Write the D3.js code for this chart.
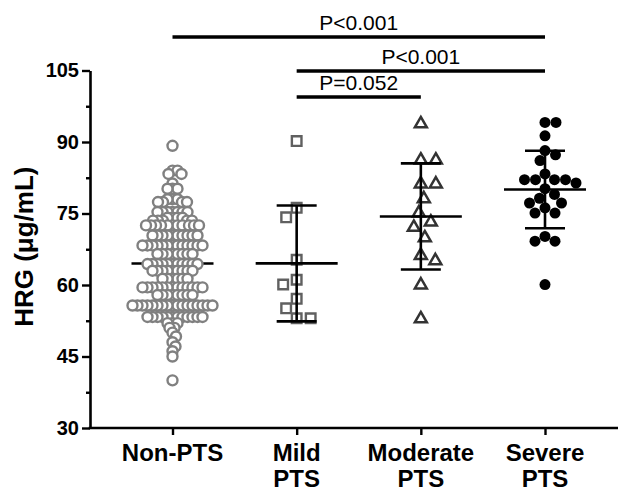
<!DOCTYPE html>
<html>
<head>
<meta charset="utf-8">
<script src="https://cdn.jsdelivr.net/npm/d3@7"></script>
<style>
  body { margin: 0; background: #fff; }
  svg { display: block; }
  text { font-family: 'Liberation Sans', Arial, sans-serif; }
</style>
</head>
<body>
<div id="chart"></div>
<script>
// groups on the x axis
const categories = ['Non-PTS', 'Mild PTS', 'Moderate PTS', 'Severe PTS']
const categoryLines = [['Non-PTS'], ['Mild', 'PTS'], ['Moderate', 'PTS'], ['Severe', 'PTS']]

// HRG values (ug/mL)
const nonPts = [
  89.2,
  84.0, 84.0,
  83.3, 83.3,
  81.3,
  80.2, 80.2, 80.2,
  78.0, 78.0, 78.0,
  77.4, 77.4, 77.4, 77.4,
  75.3, 75.3, 75.3, 75.3, 75.3, 75.3, 75.3,
  74.1, 74.1, 74.1, 74.1,
  73.5, 73.5, 73.5, 73.5, 73.5,
  72.5, 72.5, 72.5, 72.5, 72.5, 72.5, 72.5, 72.5, 72.5, 72.5, 72.5,
  70.4, 70.4, 70.4, 70.4, 70.4, 70.4, 70.4, 70.4, 70.4, 70.4,
  68.3, 68.3, 68.3, 68.3, 68.3, 68.3, 68.3, 68.3, 68.3, 68.3, 68.3, 68.3, 68.3,
  66.5, 66.5, 66.5, 66.5, 66.5, 66.5, 66.5, 66.5,
  64.4, 64.4, 64.4, 64.4, 64.4, 64.4, 64.4, 64.4, 64.4, 64.4, 64.4,
  63.0, 63.0, 63.0, 63.0, 63.0, 63.0, 63.0, 63.0, 63.0,
  61.3, 61.3, 61.3, 61.3, 61.3, 61.3,
  59.5, 59.5, 59.5, 59.5, 59.5, 59.5, 59.5, 59.5, 59.5, 59.5, 59.5, 59.5, 59.5,
  57.9, 57.9, 57.9, 57.9, 57.9, 57.9, 57.9, 57.9,
  55.7, 55.7, 55.7, 55.7, 55.7, 55.7, 55.7, 55.7, 55.7, 55.7, 55.7, 55.7, 55.7, 55.7, 55.7, 55.7, 55.7,
  53.3, 53.3, 53.3, 53.3, 53.3, 53.3, 53.3, 53.3, 53.3, 53.3, 53.3, 53.3,
  52.0, 52.0, 52.0,
  51.0, 51.0,
  50.0, 49.2, 48.0, 47.1, 46.1, 45.0, 40.0
]
const mildPts = [90.2, 76.2, 74.2, 65.3, 61.1, 60.1, 57.1, 55.1, 53.0, 53.0]
const moderatePts = [93.8, 86.2, 86.2, 81.2, 81.2, 78.1, 75.1, 73.2, 72.1, 69.9, 66.2, 65.1, 60.0, 52.9]
const severePts = [94.1, 94.1, 91.3, 88.2, 87.3, 86.1, 83.3, 82.1, 82.1, 82.1, 82.1, 81.4,
  80.2, 79.0, 78.2, 77.2, 77.2, 76.2, 75.1, 75.1, 70.2, 69.2, 69.2, 60.1]

// y axis ticks
const majorTicks = [30, 45, 60, 75, 90, 105]
const minorTicks = [37.5, 52.5, 67.5, 82.5, 97.5]

// comparisons shown above the plot
const comparisons = [
  { from: 'Non-PTS', to: 'Severe PTS', label: 'P<0.001' },
  { from: 'Mild PTS', to: 'Severe PTS', label: 'P<0.001' },
  { from: 'Mild PTS', to: 'Moderate PTS', label: 'P=0.052' }
]

const width = 622
const height = 493
const margin = { top: 70.5, right: 4, bottom: 65, left: 90 }
const innerWidth = width - margin.left - margin.right
const innerHeight = height - margin.top - margin.bottom

const svg = d3
  .select('#chart')
  .append('svg')
  .attr('width', width)
  .attr('height', height)

const g = svg.append('g').attr('transform', 'translate(' + margin.left + ',' + margin.top + ')')

const yPositionScale = d3.scaleLinear().domain([30, 105]).range([innerHeight, 0])
const xPositionScale = d3.scalePoint().domain(categories).range([82.5, 455])

// simple beeswarm: nudge points sideways until they stop colliding
function swarm(values, dmin, side) {
  const pts = values.map(v => ({ v: v, py: yPositionScale(v), dx: 0 }))
  const order = pts.slice().sort((a, b) => b.v - a.v)
  const placed = []
  order.forEach(p => {
    for (let k = 0; k < 600; k++) {
      const off = k === 0 ? 0 : (k % 2 ? side : -side) * Math.ceil(k / 2) * 0.5
      const ok = placed.every(q => {
        const ddy = q.py - p.py
        const ddx = q.dx - off
        return Math.abs(ddy) >= dmin || ddx * ddx + ddy * ddy >= dmin * dmin - 1e-6
      })
      if (ok) {
        p.dx = off
        break
      }
    }
    placed.push(p)
  })
  return order
}

const groups = [
  { name: 'Non-PTS', values: nonPts, dmin: 5, side: 1 },
  { name: 'Mild PTS', values: mildPts, dmin: 14, side: -1 },
  { name: 'Moderate PTS', values: moderatePts, dmin: 15, side: 1 },
  { name: 'Severe PTS', values: severePts, dmin: 11, side: 1 }
]

function drawBars(grp) {
  const cx = xPositionScale(grp.name)
  const mean = d3.mean(grp.values)
  const sd = d3.deviation(grp.values)
  const bars = g.append('g').attr('class', 'bars').attr('stroke', '#000').attr('stroke-width', 2.6)
  bars.append('line')
    .attr('x1', cx).attr('x2', cx)
    .attr('y1', yPositionScale(mean + sd)).attr('y2', yPositionScale(mean - sd))
  bars.append('line')
    .attr('x1', cx - 20).attr('x2', cx + 20)
    .attr('y1', yPositionScale(mean + sd)).attr('y2', yPositionScale(mean + sd))
  bars.append('line')
    .attr('x1', cx - 20).attr('x2', cx + 20)
    .attr('y1', yPositionScale(mean - sd)).attr('y2', yPositionScale(mean - sd))
  bars.append('line')
    .attr('x1', cx - 41).attr('x2', cx + 41)
    .attr('y1', yPositionScale(mean)).attr('y2', yPositionScale(mean))
}

// Non-PTS: bars sit under the white-filled circles
drawBars(groups[0])
g.append('g')
  .selectAll('circle')
  .data(swarm(groups[0].values, groups[0].dmin, groups[0].side))
  .enter()
  .append('circle')
  .attr('cx', d => xPositionScale(groups[0].name) + d.dx)
  .attr('cy', d => d.py)
  .attr('r', 5)
  .attr('fill', '#fff')
  .attr('stroke', '#808080')
  .attr('stroke-width', 2.4)

// Mild: open squares
g.append('g')
  .selectAll('path')
  .data(swarm(groups[1].values, groups[1].dmin, groups[1].side))
  .enter()
  .append('path')
  .attr('d', d3.symbol().type(d3.symbolSquare).size(92))
  .attr('transform', d => 'translate(' + (xPositionScale(groups[1].name) + d.dx) + ',' + d.py + ')')
  .attr('fill', 'none')
  .attr('stroke', '#606060')
  .attr('stroke-width', 2.4)

// Moderate: open triangles
g.append('g')
  .selectAll('path')
  .data(swarm(groups[2].values, groups[2].dmin, groups[2].side))
  .enter()
  .append('path')
  .attr('d', d3.symbol().type(d3.symbolTriangle).size(62))
  .attr('transform', d => 'translate(' + (xPositionScale(groups[2].name) + d.dx) + ',' + d.py + ')')
  .attr('fill', 'none')
  .attr('stroke', '#333')
  .attr('stroke-width', 2.5)
  .attr('stroke-linejoin', 'miter')

// Severe: filled dots
g.append('g')
  .selectAll('circle')
  .data(swarm(groups[3].values, groups[3].dmin, groups[3].side))
  .enter()
  .append('circle')
  .attr('cx', d => xPositionScale(groups[3].name) + d.dx)
  .attr('cy', d => d.py)
  .attr('r', 5.5)
  .attr('fill', '#000')

drawBars(groups[1])
drawBars(groups[2])
drawBars(groups[3])

// y axis
const yAxis = d3.axisLeft(yPositionScale).tickValues(majorTicks).tickSize(8).tickSizeOuter(0).tickPadding(3)
const yAxisG = g.append('g').attr('class', 'axis y-axis').call(yAxis)
yAxisG.select('.domain').attr('stroke-width', 2.6)
yAxisG.selectAll('.tick line').attr('stroke-width', 2.4)
yAxisG.selectAll('.tick text')
  .attr('font-size', 20)
  .attr('font-weight', 'bold')
  .attr('font-family', "'Liberation Sans', Arial, sans-serif")
  .attr('fill', '#000')

const yMinor = d3.axisLeft(yPositionScale).tickValues(minorTicks).tickSize(4).tickSizeOuter(0).tickFormat('')
const yMinorG = g.append('g').attr('class', 'axis y-minor').call(yMinor)
yMinorG.select('.domain').remove()
yMinorG.selectAll('.tick line').attr('stroke-width', 2.4)

// x axis
const xAxis = d3.axisBottom(xPositionScale).tickSize(7).tickSizeOuter(0).tickFormat('')
const xAxisG = g.append('g')
  .attr('class', 'axis x-axis')
  .attr('transform', 'translate(0,' + innerHeight + ')')
  .call(xAxis)
xAxisG.select('.domain').remove()
xAxisG.selectAll('.tick line').attr('stroke-width', 2.4)
xAxisG.append('line')
  .attr('x1', -1.3).attr('x2', innerWidth)
  .attr('y1', 0).attr('y2', 0)
  .attr('stroke', '#000')
  .attr('stroke-width', 2.6)

// one text per label line so each line can be placed on its own
const xLabelLines = []
categories.forEach((c, i) => {
  categoryLines[i].forEach((line, j) => xLabelLines.push({ line: line, cx: xPositionScale(c), row: j }))
})
xAxisG.selectAll('.x-label')
  .data(xLabelLines)
  .enter()
  .append('text')
  .attr('class', 'x-label')
  .attr('x', d => d.cx)
  .attr('y', d => 33 + d.row * 26)
  .attr('text-anchor', 'middle')
  .attr('font-size', 24)
  .attr('font-weight', 'bold')
  .attr('fill', '#000')
  .text(d => d.line)

// y axis title
g.append('text')
  .attr('transform', 'translate(' + (33 - margin.left) + ',' + (246.7 - margin.top) + ') rotate(-90)')
  .attr('text-anchor', 'middle')
  .attr('font-size', 26)
  .attr('font-weight', 'bold')
  .attr('fill', '#000')
  .text('HRG (\u03bcg/mL)')

// significance brackets (pixel rows above the plot)
const bracketRows = [37, 71, 97]
comparisons.forEach((c, i) => {
  const yy = bracketRows[i] - margin.top
  const x1 = xPositionScale(c.from)
  const x2 = xPositionScale(c.to)
  g.append('line')
    .attr('x1', x1).attr('x2', x2)
    .attr('y1', yy).attr('y2', yy)
    .attr('stroke', '#000')
    .attr('stroke-width', 3.6)
  g.append('text')
    .attr('x', (x1 + x2) / 2)
    .attr('y', yy - 7)
    .attr('text-anchor', 'middle')
    .attr('font-size', 21)
    .attr('fill', '#000')
    .text(c.label)
})
</script>
</body>
</html>
